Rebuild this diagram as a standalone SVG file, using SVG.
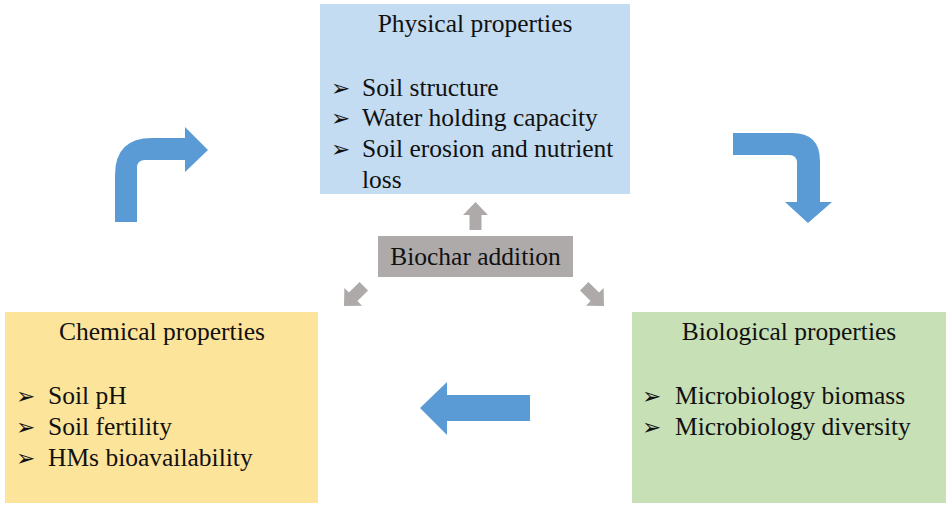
<svg xmlns="http://www.w3.org/2000/svg" width="949" height="508" viewBox="0 0 949 508">
<style>
.blue{fill:#5b9bd5}
.gray{fill:#aeaaaa}
</style>
<defs>
<path id="ga" d="M0,0 L12.5,13 L6,13 L6,28 L-6,28 L-6,13 L-12.5,13 Z"/>
</defs>
<rect width="949" height="508" fill="#fff"/>
<g id="physical">
<rect x="320" y="4" width="310" height="190" fill="#c3dcf1"/>
<text font-family="Liberation Serif" font-size="25.5" fill="#111" x="475" y="32" text-anchor="middle">Physical properties</text>
<text font-family="DejaVu Sans" font-size="23" fill="#111" x="331" y="96">➢</text><text font-family="Liberation Serif" font-size="25.5" fill="#111" x="362" y="96">Soil structure</text>
<text font-family="DejaVu Sans" font-size="23" fill="#111" x="331" y="126">➢</text><text font-family="Liberation Serif" font-size="25.5" fill="#111" x="362" y="126">Water holding capacity</text>
<text font-family="DejaVu Sans" font-size="23" fill="#111" x="331" y="157">➢</text><text font-family="Liberation Serif" font-size="25.5" fill="#111" x="362" y="157">Soil erosion and nutrient</text>
<text font-family="Liberation Serif" font-size="25.5" fill="#111" x="362" y="188">loss</text>
</g>
<g id="chemical">
<rect x="5" y="312" width="313" height="191" fill="#fde49b"/>
<text font-family="Liberation Serif" font-size="25.5" fill="#111" x="162" y="340" text-anchor="middle">Chemical properties</text>
<text font-family="DejaVu Sans" font-size="23" fill="#111" x="16" y="404">➢</text><text font-family="Liberation Serif" font-size="25.5" fill="#111" x="48" y="404">Soil pH</text>
<text font-family="DejaVu Sans" font-size="23" fill="#111" x="16" y="435">➢</text><text font-family="Liberation Serif" font-size="25.5" fill="#111" x="48" y="435">Soil fertility</text>
<text font-family="DejaVu Sans" font-size="23" fill="#111" x="16" y="466">➢</text><text font-family="Liberation Serif" font-size="25.5" fill="#111" x="48" y="466">HMs bioavailability</text>
</g>
<g id="biological">
<rect x="632" y="312" width="314" height="191" fill="#c7e0b6"/>
<text font-family="Liberation Serif" font-size="25.5" fill="#111" x="789" y="340" text-anchor="middle">Biological properties</text>
<text font-family="DejaVu Sans" font-size="23" fill="#111" x="642" y="404">➢</text><text font-family="Liberation Serif" font-size="25.5" fill="#111" x="675" y="404">Microbiology biomass</text>
<text font-family="DejaVu Sans" font-size="23" fill="#111" x="642" y="435">➢</text><text font-family="Liberation Serif" font-size="25.5" fill="#111" x="675" y="435">Microbiology diversity</text>
</g>
<g id="biochar">
<rect x="378" y="236" width="195" height="41" fill="#aeaaaa"/>
<text font-family="Liberation Serif" font-size="25.5" fill="#111" x="475.5" y="265" text-anchor="middle">Biochar addition</text>
</g>
<g id="connectors">
<use href="#ga" class="gray" transform="translate(475.5,202)"/>
<use href="#ga" class="gray" transform="translate(344,306) rotate(-135)"/>
<use href="#ga" class="gray" transform="translate(604,306) rotate(135)"/>
<path class="blue" d="M115,222 L115,175 Q115,138 152,138 L185,138 L185,127 L208,150 L185,172 L185,160 L145,160 Q137,160 137,168 L137,222 Z"/>
<path class="blue" d="M733,133 L792,133 Q820,133 820,161 L820,202 L832,202 L808,223 L785,202 L797,202 L797,163 Q797,155 789,155 L733,155 Z"/>
<path class="blue" d="M530,395 L447,395 L447,382 L420,408 L447,435 L447,421 L530,421 Z"/>
</g>
</svg>
